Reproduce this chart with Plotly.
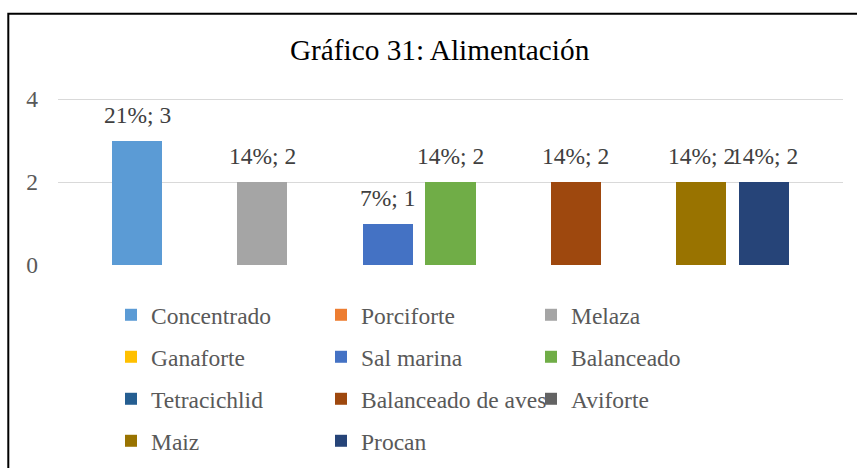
import plotly.graph_objects as go

# Feed types and how many respondents use each one
categories = [
    "Concentrado", "Porciforte", "Melaza",
    "Ganaforte", "Sal marina", "Balanceado",
    "Tetracichlid", "Balanceado de aves", "Aviforte",
    "Maiz", "Procan",
]
counts = [3, 0, 2, 0, 1, 2, 0, 2, 0, 2, 2]
colors = [
    "#5B9BD5", "#ED7D31", "#A5A5A5",
    "#FFC000", "#4472C4", "#70AD47",
    "#255E91", "#9E480E", "#636363",
    "#997300", "#264478",
]
y_ticks = [0, 2, 4]
title_text = "Gráfico 31: Alimentación"

FONT = "Liberation Serif"
W, H = 857, 468
total = sum(counts)

# plot-area geometry: value axis 0..4 spans 166 px, a bit of headroom on top
PX_PER_UNIT = 41.5
PLOT_BOTTOM = 265
PLOT_H = 170
y_top = PLOT_H / PX_PER_UNIT

legend_ids = ["legend", "legend2", "legend3", "legend4"]

fig = go.Figure()
for i, (name, val, col) in enumerate(zip(categories, counts, colors)):
    fig.add_trace(go.Bar(
        x=[i], y=[val], name=name, width=0.8,
        marker=dict(color=col, line=dict(width=0)),
        legend=legend_ids[i // 3],
        hovertemplate=f"{name}: %{{y}}<extra></extra>",
    ))
    if val > 0:
        fig.add_annotation(
            x=i, y=val, xref="x", yref="y",
            text=f"{round(100 * val / total)}%; {val}",
            showarrow=False, yanchor="bottom", yshift=11,
            font=dict(family=FONT, size=23.5, color="#404040"),
        )

# legend rows (one horizontal legend per row, three columns)
row_y = [315, 357, 399, 441]
legend_layout = {}
for k, lid in enumerate(legend_ids):
    legend_layout[lid] = dict(
        orientation="h", xref="container", yref="container",
        x=111 / W, y=1 - row_y[k] / H, xanchor="left", yanchor="middle",
        font=dict(family=FONT, size=23.5, color="#595959"),
        bgcolor="rgba(0,0,0,0)", borderwidth=0,
        entrywidth=165, entrywidthmode="pixels",
        traceorder="normal",
    )

fig.update_layout(
    width=W, height=H,
    margin=dict(l=58, r=14, t=PLOT_BOTTOM - PLOT_H, b=H - PLOT_BOTTOM),
    paper_bgcolor="white", plot_bgcolor="white",
    font=dict(family=FONT, size=23.5, color="#595959"),
    title=dict(
        text=title_text, x=439.6 / W, xanchor="center",
        y=1 - 50 / H, yanchor="middle", xref="container", yref="container",
        font=dict(family=FONT, size=29.3, color="#000000"),
    ),
    xaxis=dict(range=[-1.26, 11.26], visible=False, fixedrange=True),
    yaxis=dict(
        range=[0, y_top], tickvals=y_ticks, showgrid=True,
        gridcolor="#D9D9D9", gridwidth=1.4, zeroline=False, showline=False,
        ticks="", ticklabelstandoff=19,
        tickfont=dict(family=FONT, size=23.5, color="#595959"),
        fixedrange=True,
    ),
    showlegend=True,
    bargap=0,
    **legend_layout,
)

# chart frame (top and left edges visible)
fig.add_shape(type="rect", xref="paper", yref="paper",
              x0=(8.3 - 58) / 785, x1=(880 - 58) / 785,
              y0=(PLOT_BOTTOM - 490) / PLOT_H, y1=(PLOT_BOTTOM - 13.7) / PLOT_H,
              line=dict(color="#000000", width=2), fillcolor="rgba(0,0,0,0)",
              layer="above")

fig.write_html("out.html")
